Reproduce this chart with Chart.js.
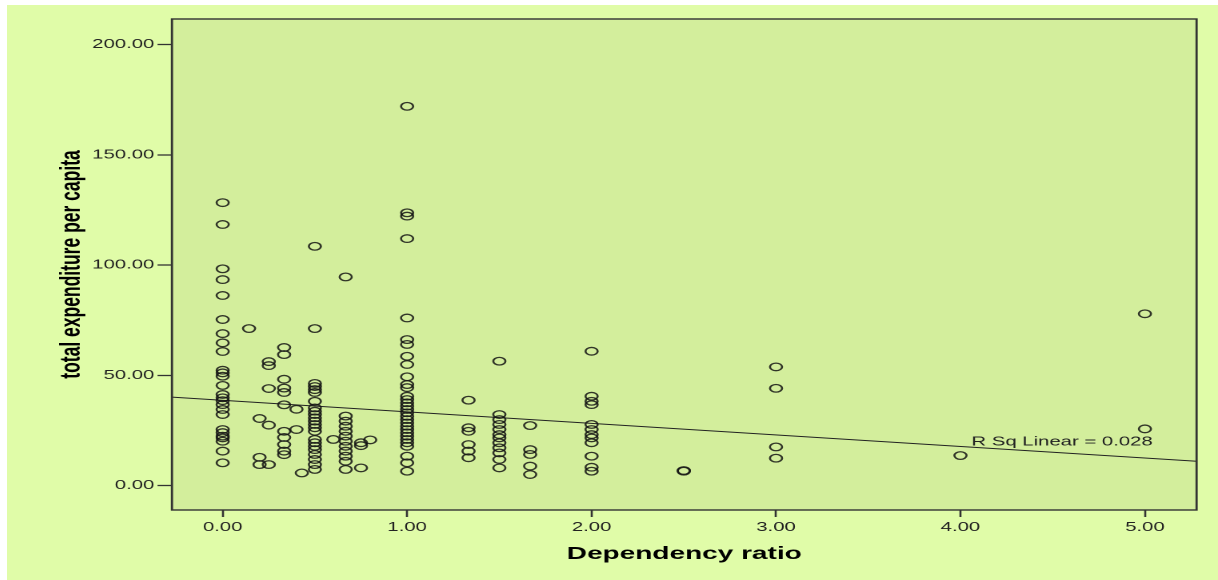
<!DOCTYPE html>
<html>
<head>
<meta charset="utf-8">
<script src="https://cdn.jsdelivr.net/npm/chart.js@4.4.1/dist/chart.umd.min.js"></script>
<style>
  html, body { margin: 0; padding: 0; background: #ffffff; }
  #frame { position: absolute; left: 7px; top: 5px; width: 1211px; height: 575px; background: #e0fca8; }
  #grafico { display: block; }
</style>
</head>
<body>
<div id="frame">
  <canvas id="grafico" width="757" height="575" style="width:1211px;height:575px"></canvas>
</div>
<script>
// ===== Datos =====
// dependency ratio (x) of each column of points
const depRatio = [0, 0.143, 0.2, 0.25, 0.333, 0.4, 0.429, 0.5, 0.6, 0.667, 0.75, 0.8,
  1, 1.333, 1.5, 1.667, 2, 2.5, 3, 4, 5];
// total expenditure per capita of the points in each column
const expenditure = [
  [128.3, 118.4, 98.3, 93.4, 86.2, 75.3, 68.9, 64.7, 60.8, 52.3, 51.1, 49.6, 45.4, 41.3, 39.8,
   38.5, 36.7, 34.5, 32.2, 25.4, 24.0, 22.4, 21.6, 20.1, 15.6, 10.3],
  [71.2],
  [30.4, 12.8, 9.5],
  [56.2, 54.4, 44.0, 27.4, 9.5],
  [62.6, 59.4, 48.2, 44.2, 42.2, 36.6, 24.6, 21.8, 18.6, 15.6, 14.0],
  [34.6, 25.4],
  [5.7],
  [108.5, 71.2, 46.3, 44.9, 43.5, 42.2, 38.2, 35.2, 33.7, 32.2, 30.7, 29.2, 27.7, 26.2, 24.6,
   20.9, 19.4, 17.8, 16.3, 14.1, 11.8, 9.5, 7.3],
  [20.9],
  [94.6, 31.5, 29.2, 26.9, 24.6, 22.4, 20.1, 17.8, 15.6, 13.3, 11.0, 7.3],
  [19.4, 18.1, 8.0],
  [20.7],
  [172.0, 123.7, 122.2, 112.0, 76.0, 66.2, 64.0, 58.6, 54.9, 49.3, 45.8, 44.4, 40.5, 39.0, 37.5,
   36.0, 34.5, 33.0, 31.4, 29.9, 28.4, 26.9, 25.4, 23.9, 22.4, 20.9, 19.4, 17.8, 13.3, 10.3, 6.5],
  [38.7, 26.2, 24.6, 18.6, 15.6, 12.6],
  [56.4, 32.2, 29.9, 27.7, 25.4, 23.1, 21.6, 19.4, 17.1, 14.8, 11.8, 8.0],
  [27.2, 16.3, 14.1, 8.8, 5.0],
  [60.9, 40.5, 38.2, 36.7, 27.7, 25.4, 23.1, 21.6, 19.4, 13.3, 8.3, 6.5],
  [6.5, 6.8],
  [53.8, 44.1, 17.5, 12.4],
  [13.6],
  [77.9, 25.7]
];
// fit line (read at both edges of the plot)
const fitX = [-0.275, 5.28];
const fitY = [40.1, 11.0];
const fitLabel = "R Sq Linear = 0.028";

const xTicks = [0, 1, 2, 3, 4, 5];
const yTicks = [0, 50, 100, 150, 200];

// ===== Puntos =====
const puntos = [];
depRatio.forEach((x, i) => {
  expenditure[i].forEach(y => puntos.push({ x, y }));
});
const linea = fitX.map((x, i) => ({ x, y: fitY[i] }));

const TEXTO = '#222222';
const FUENTE = "'Liberation Sans', Arial, sans-serif";

// ===== Plugins =====
const fondoYMarco = {
  id: 'fondoYMarco',
  beforeDraw(chart) {
    const { ctx, chartArea: a } = chart;
    ctx.save();
    ctx.fillStyle = '#d3ee9c';
    ctx.fillRect(a.left, a.top, a.right - a.left, a.bottom - a.top);
    ctx.restore();
  },
  afterDraw(chart) {
    const { ctx, chartArea: a } = chart;
    ctx.save();
    ctx.strokeStyle = '#333333';
    ctx.lineWidth = 1.4;
    ctx.strokeRect(a.left, a.top, a.right - a.left, a.bottom - a.top);
    ctx.restore();
  }
};

const etiquetaR2 = {
  id: 'etiquetaR2',
  afterDatasetsDraw(chart) {
    const { ctx, scales } = chart;
    ctx.save();
    ctx.font = `12.7px ${FUENTE}`;
    ctx.fillStyle = TEXTO;
    ctx.textBaseline = 'alphabetic';
    ctx.fillText(fitLabel, scales.x.getPixelForValue(4.06), scales.y.getPixelForValue(18.1));
    ctx.restore();
  }
};

// ===== Chart.js =====
const ctx = document.getElementById('grafico').getContext('2d');
const chart = new Chart(ctx, {
  type: 'scatter',
  data: {
    datasets: [
      {
        label: 'expenditure',
        data: puntos,
        pointStyle: 'circle',
        pointRadius: 3.8,
        pointBorderWidth: 1.3,
        pointBorderColor: 'rgba(20,20,20,0.85)',
        pointBackgroundColor: 'rgba(0,0,0,0)'
      },
      {
        type: 'line',
        label: 'fit',
        data: linea,
        borderColor: '#222222',
        borderWidth: 1,
        pointRadius: 0,
        fill: false
      }
    ]
  },
  options: {
    responsive: false,
    animation: false,
    devicePixelRatio: 2,
    layout: { padding: { left: 0, top: 14, right: 13.4, bottom: 0 } },
    plugins: { legend: { display: false }, tooltip: { enabled: false } },
    scales: {
      x: {
        type: 'linear',
        min: -0.275,
        max: 5.28,
        afterBuildTicks: s => { s.ticks = xTicks.map(v => ({ value: v })); },
        afterFit: s => { s.height = 70; },
        grid: { display: true, drawOnChartArea: false, drawTicks: true, tickLength: 7, tickColor: '#333333', tickWidth: 1.3 },
        border: { display: false },
        ticks: {
          padding: 3,
          color: TEXTO,
          font: { family: FUENTE, size: 12.7 },
          maxRotation: 0,
          callback: v => Number(v).toFixed(2)
        },
        title: {
          display: true,
          text: 'Dependency ratio',
          color: '#000000',
          font: { family: FUENTE, size: 17.5, weight: 'bold' },
          padding: { top: 0, bottom: 15.5 }
        }
      },
      y: {
        type: 'linear',
        min: -11.1,
        max: 211.6,
        afterBuildTicks: s => { s.ticks = yTicks.map(v => ({ value: v })); },
        afterFit: s => { s.width = 103.1; },
        grid: { display: true, drawOnChartArea: false, drawTicks: true, tickLength: 9, tickColor: '#333333', tickWidth: 1.3 },
        border: { display: false },
        ticks: {
          padding: 2,
          color: TEXTO,
          font: { family: FUENTE, size: 12.7 },
          callback: v => Number(v).toFixed(2)
        },
        title: {
          display: true,
          text: 'total expenditure per capita',
          color: '#000000',
          font: { family: FUENTE, size: 17.5, weight: 'bold' },
          padding: { top: 30, bottom: 0 }
        }
      }
    }
  },
  plugins: [fondoYMarco, etiquetaR2]
});

// estirar el lienzo horizontalmente como en la imagen original
const lienzo = document.getElementById('grafico');
lienzo.style.width = '1211px';
lienzo.style.height = '575px';
</script>
</body>
</html>
